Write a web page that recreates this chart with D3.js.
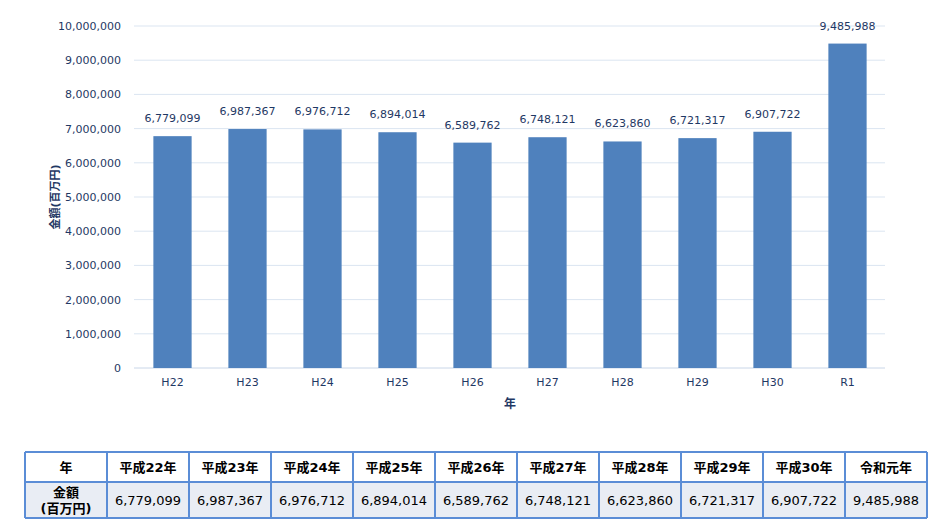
<!DOCTYPE html><html><head><meta charset="utf-8"><script src="https://cdn.jsdelivr.net/npm/d3@7"></script>
<style>body{margin:0;background:#fff;font-family:Verdana,"DejaVu Sans","Noto Sans CJK JP",sans-serif}</style></head><body><svg id="c" width="946" height="531"></svg>
<script>
const categories=["H22","H23","H24","H25","H26","H27","H28","H29","H30","R1"];
const values=[6779099,6987367,6976712,6894014,6589762,6748121,6623860,6721317,6907722,9485988];
const tableHeaders=["平成22年","平成23年","平成24年","平成25年","平成26年","平成27年","平成28年","平成29年","平成30年","令和元年"];
const yTicks=[0,1000000,2000000,3000000,4000000,5000000,6000000,7000000,8000000,9000000,10000000];
const svg=d3.select("#c");
const tc="#1f3864", fnt="Verdana,'DejaVu Sans','Noto Sans CJK JP',sans-serif";
const x=d3.scaleBand().domain(categories).range([135,885]).paddingInner(0.49).paddingOuter(0.245);
const y=d3.scaleLinear().domain([0,10000000]).range([368,26]);
const fmt=d3.format(",");
svg.append("g").selectAll("line").data(yTicks).join("line").attr("x1",134).attr("x2",885)
 .attr("y1",d=>y(d)).attr("y2",d=>y(d)).attr("stroke",d=>d===0?"#c9d6e8":"#dbe5f1").attr("stroke-width",1);
svg.append("g").selectAll("text").data(yTicks).join("text").attr("x",121).attr("y",d=>y(d)+4)
 .attr("text-anchor","end").attr("font-size",11).attr("font-family",fnt).attr("fill",tc).text(fmt);
svg.append("g").selectAll("rect").data(values).join("rect").attr("x",(d,i)=>x(categories[i])).attr("width",x.bandwidth())
 .attr("y",d=>y(d)).attr("height",d=>368-y(d)).attr("fill","#4f81bd");
svg.append("g").selectAll("text").data(values).join("text").attr("x",(d,i)=>x(categories[i])+x.bandwidth()/2).attr("y",d=>y(d)-14)
 .attr("text-anchor","middle").attr("font-size",11).attr("font-family",fnt).attr("fill",tc).text(fmt);
svg.append("g").selectAll("text").data(categories).join("text").attr("x",d=>x(d)+x.bandwidth()/2).attr("y",386)
 .attr("text-anchor","middle").attr("font-size",11).attr("font-family",fnt).attr("fill",tc).text(d=>d);
svg.append("text").attr("x",510).attr("y",408).attr("text-anchor","middle").attr("font-size",12).attr("font-weight","bold").attr("font-family",fnt).attr("fill",tc).text("年");
svg.append("text").attr("transform","translate(59,197) rotate(-90)").attr("text-anchor","middle").attr("font-size",11).attr("font-weight","bold").attr("font-family",fnt).attr("fill",tc).text("金額(百万円)");
// table
const cols=[25].concat(d3.range(11).map(i=>107+i*82));
const rowY=[452,482,518];
const tg=svg.append("g");
tg.append("rect").attr("x",25).attr("y",482).attr("width",902).attr("height",36).attr("fill","#e9edf4");
const hdr=["年"].concat(tableHeaders);
hdr.forEach((h,i)=>{const cx=(cols[i]+cols[i+1])/2;
 tg.append("text").attr("x",cx).attr("y",472).attr("text-anchor","middle").attr("font-size",13).attr("font-weight","bold").attr("font-family",fnt).attr("fill","#000").text(h);
 if(i>0) tg.append("text").attr("x",cx).attr("y",505).attr("text-anchor","middle").attr("font-size",13).attr("font-family",fnt).attr("fill","#000").text(fmt(values[i-1]));});
tg.append("text").attr("x",66).attr("y",497).attr("text-anchor","middle").attr("font-size",13).attr("font-weight","bold").attr("font-family",fnt).text("金額");
tg.append("text").attr("x",66).attr("y",513).attr("text-anchor","middle").attr("font-size",13).attr("font-weight","bold").attr("font-family",fnt).text("(百万円)");
cols.forEach(c=>tg.append("line").attr("x1",c).attr("x2",c).attr("y1",452).attr("y2",518).attr("stroke","#5b8dd6").attr("stroke-width",2));
rowY.forEach(r=>tg.append("line").attr("x1",25).attr("x2",927).attr("y1",r).attr("y2",r).attr("stroke","#5b8dd6").attr("stroke-width",2));
</script></body></html>
